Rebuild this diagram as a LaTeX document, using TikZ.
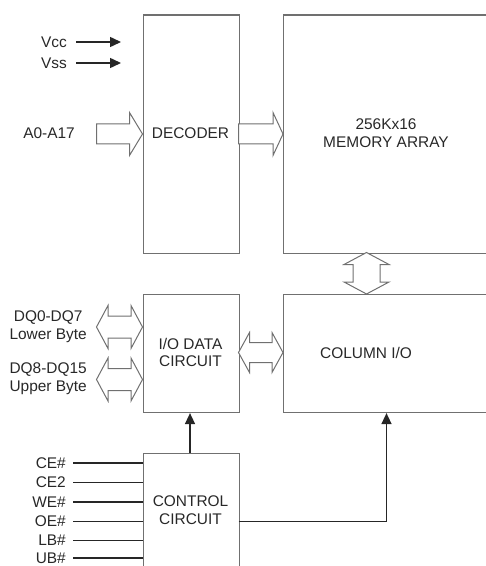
\documentclass[tikz,border=0pt]{standalone}
\usepackage{fontspec}
\setmainfont{Liberation Sans}
\usetikzlibrary{calc,arrows.meta}
\definecolor{boxgray}{RGB}{112,112,112}
\definecolor{txtgray}{RGB}{40,40,40}
\tikzset{
  blk/.style={draw=boxgray, line width=1.1bp, inner sep=0pt, anchor=north west},
  lbl/.style={text=txtgray, inner sep=0pt, font=\fontsize{15.5}{17.5}\selectfont, align=center},
  pinlbl/.style={lbl, anchor=east},
  hollow/.style={draw=boxgray, line width=1bp, fill=white, line join=miter},
  sig/.style={draw=black!85, line width=1.5bp},
  sigarrow/.style={sig, -{Triangle[length=11bp,width=10bp]}},
}
% horizontal single hollow arrow: #1 start coord, #2 end coord, #3 body half, #4 head half, #5 head length
\newcommand{\hollowR}[5]{%
  \draw[hollow] let \p1=(#1), \p2=(#2) in
   (\x1,\y1+#3) -- (\x2-#5,\y1+#3) -- (\x2-#5,\y1+#4) -- (\x2,\y1)
   -- (\x2-#5,\y1-#4) -- (\x2-#5,\y1-#3) -- (\x1,\y1-#3) -- cycle;}
% horizontal double hollow arrow
\newcommand{\hollowLR}[5]{%
  \draw[hollow] let \p1=(#1), \p2=(#2) in
   (\x1,\y1) -- (\x1+#5,\y1+#4) -- (\x1+#5,\y1+#3) -- (\x2-#5,\y1+#3) -- (\x2-#5,\y1+#4)
   -- (\x2,\y1) -- (\x2-#5,\y1-#4) -- (\x2-#5,\y1-#3) -- (\x1+#5,\y1-#3) -- (\x1+#5,\y1-#4) -- cycle;}
% vertical double hollow arrow
\newcommand{\hollowUD}[5]{%
  \draw[hollow] let \p1=(#1), \p2=(#2) in
   (\x1,\y1) -- (\x1+#4,\y1-#5) -- (\x1+#3,\y1-#5) -- (\x1+#3,\y2+#5) -- (\x1+#4,\y2+#5)
   -- (\x1,\y2) -- (\x1-#4,\y2+#5) -- (\x1-#3,\y2+#5) -- (\x1-#3,\y1-#5) -- (\x1-#4,\y1-#5) -- cycle;}
\begin{document}
\begin{tikzpicture}[x=1bp,y=-1bp]
\useasboundingbox (0,0) rectangle (486,566);
\clip (0,0) rectangle (486,566);

% blocks
\node[blk, minimum width=96bp, minimum height=238bp] (dec) at (142.5,14.5) {};
\node[lbl] (dect) at (190.5,133) {DECODER};
\node[blk, minimum width=210bp, minimum height=238bp] (mem) at (283,14.5) {};
\node[lbl] (memt) at (386,133) {256Kx16\\MEMORY ARRAY};
\node[blk, minimum width=96bp, minimum height=118bp] (io) at (142.5,294) {};
\node[lbl] (iot) at (190.5,352.5) {I/O DATA\\CIRCUIT};
\node[blk, minimum width=210bp, minimum height=118bp] (col) at (283,294) {};
\node[lbl] (colt) at (366,353) {COLUMN I/O};
\node[blk, minimum width=96bp, minimum height=130bp] (ctl) at (142.5,453) {};
\node[lbl] (ctlt) at (190.5,510) {CONTROL\\CIRCUIT};

% power pins
\node[pinlbl] (vcc) at (67,42) {Vcc};
\node[pinlbl] (vss) at (67,63) {Vss};
\coordinate (vccend) at (121,42);
\coordinate (vssend) at (121,63);
\draw[sigarrow] ($(vcc.east)+(9,0)$) -- (vccend);
\draw[sigarrow] ($(vss.east)+(9,0)$) -- (vssend);

% address
\node[pinlbl] (addr) at (75,133) {A0-A17};
\coordinate (addrin) at (96.5,134);
\hollowR{addrin}{dec.west |- addrin}{10bp}{21.5bp}{13bp}
\coordinate (decout) at (238.5,134);
\hollowR{decout}{mem.west |- decout}{10bp}{21.5bp}{10bp}

% memory <-> column
\coordinate (mc) at (366.5,252.5);
\hollowUD{mc}{col.north -| mc}{13.5bp}{22.5bp}{12bp}

% data pins
\node[pinlbl] (dq0) at (87,326.5) {DQ0-DQ7\\Lower Byte};
\node[pinlbl] (dq8) at (87,378.5) {DQ8-DQ15\\Upper Byte};
\coordinate (dq0in) at (96.5,327);
\coordinate (dq8in) at (96.5,379.5);
\hollowLR{dq0in}{io.west |- dq0in}{11bp}{21.5bp}{11.5bp}
\hollowLR{dq8in}{io.west |- dq8in}{11bp}{21.5bp}{11.5bp}

% io <-> column
\coordinate (ioc) at (238.5,352.5);
\hollowLR{ioc}{col.west |- ioc}{10bp}{20bp}{11bp}

% control pins
\foreach \n/\t/\yy in {ce/CE\#/463, cetwo/CE2/482.5, we/WE\#/502, oe/OE\#/521.5, lb/LB\#/540.5, ub/UB\#/558}{
  \node[pinlbl] (\n) at (66,\yy) {\t};
  \coordinate (\n s) at (73,\yy);
  \draw[sig] (\n s) -- (ctl.west |- \n s);
}

% control outputs
\draw[sigarrow] (ctl.north -| 190,0) -- (io.south -| 190,0);
\coordinate (ctlo) at (238.5,521.5);
\draw[sigarrow] (ctlo) -| (col.south -| 386.5,0);
\end{tikzpicture}
\end{document}
